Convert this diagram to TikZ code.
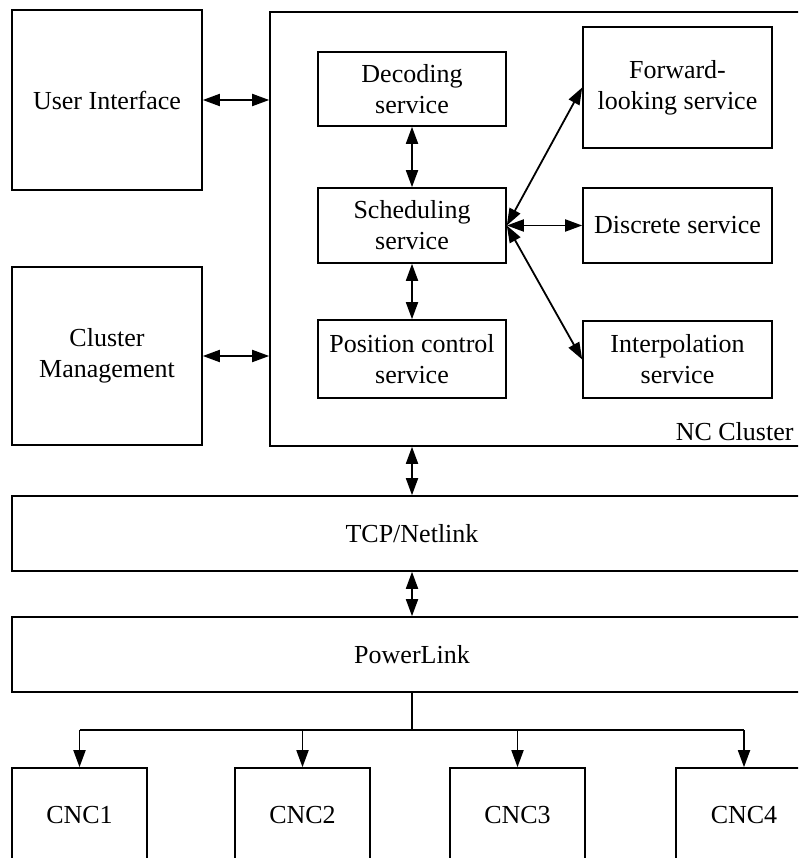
\documentclass[tikz,border=0pt]{standalone}
\usepackage{fontspec}
\setmainfont{Liberation Serif}
\usetikzlibrary{arrows.meta}
\begin{document}
\begin{tikzpicture}[x=1pt,y=-1pt,
  box/.style={draw, line width=1.6pt, inner sep=0pt, align=center,
              font=\fontsize{26}{31}\selectfont},
  tip/.style={Triangle[length=17pt,width=12pt]},
  link/.style={line width=1.8pt, {Triangle[length=17pt,width=12pt]}-{Triangle[length=17pt,width=12pt]}},
  drop/.style={line width=1.8pt, -{Triangle[length=17pt,width=12pt]}}]
\useasboundingbox (0,0) rectangle (798,858);
\clip (0,0) rectangle (798,858);

% left column
\node[box, minimum width=190pt, minimum height=180pt] (ui) at (107,100) {User Interface};
\node[box, minimum width=190pt, minimum height=178pt] (cm) at (107,356) {Cluster\\Management};

% NC cluster frame and its services
\node[box, minimum width=540pt, minimum height=434pt] (nc) at (540,229) {};
\node[anchor=base east, font=\fontsize{26}{31}\selectfont] (nclabel) at (797,440) {NC Cluster};

\node[box, minimum width=188pt, minimum height=74pt] (dec) at (412,89) {Decoding\\service};
\node[box, minimum width=188pt, minimum height=75pt] (sch) at (412,225.5) {Scheduling\\service};
\node[box, minimum width=188pt, minimum height=78pt] (pos) at (412,359) {Position control\\service};

\node[box, minimum width=189pt, minimum height=121pt] (fwd) at (677.5,87.5) {Forward-\\looking service};
\node[box, minimum width=189pt, minimum height=75pt] (dis) at (677.5,225.5) {Discrete service};
\node[box, minimum width=189pt, minimum height=77pt] (ipl) at (677.5,359.5) {Interpolation\\service};

% network layers
\node[box, minimum width=800pt, minimum height=75pt] (tcp) at (412,533.5) {TCP/Netlink};
\node[box, minimum width=800pt, minimum height=75pt] (pl) at (412,654.5) {PowerLink};

% machines
\node[box, minimum width=135pt, minimum height=94pt] (c1) at (79.5,815) {CNC1};
\node[box, minimum width=135pt, minimum height=94pt] (c2) at (302.5,815) {CNC2};
\node[box, minimum width=135pt, minimum height=94pt] (c3) at (517.5,815) {CNC3};
\node[box, minimum width=136pt, minimum height=94pt] (c4) at (744,815) {CNC4};

% connectors
\draw[link] (ui.east) -- (ui.east -| nc.west);
\draw[link] (cm.east) -- (cm.east -| nc.west);
\draw[link] (dec.south) -- (sch.north);
\draw[link] (sch.south) -- (pos.north);
\draw[link] (sch.east) -- (fwd.west);
\draw[link] (sch.east) -- (dis.west);
\draw[link] (sch.east) -- (ipl.west);
\draw[link] (dec |- nc.south) -- (tcp.north);
\draw[link] (tcp.south) -- (pl.north);

% PowerLink bus
\coordinate (busL) at (79.5,730);
\coordinate (busR) at (744,730);
\draw[line width=1.8pt] (pl.south) -- (pl.south |- busL);
\draw[line width=1.8pt] (busL) -- (busR);
\draw[drop] (busL) -- (c1.north);
\draw[drop] (c2 |- busL) -- (c2.north);
\draw[drop] (c3 |- busL) -- (c3.north);
\draw[drop] (busR) -- (c4.north);
\end{tikzpicture}
\end{document}
